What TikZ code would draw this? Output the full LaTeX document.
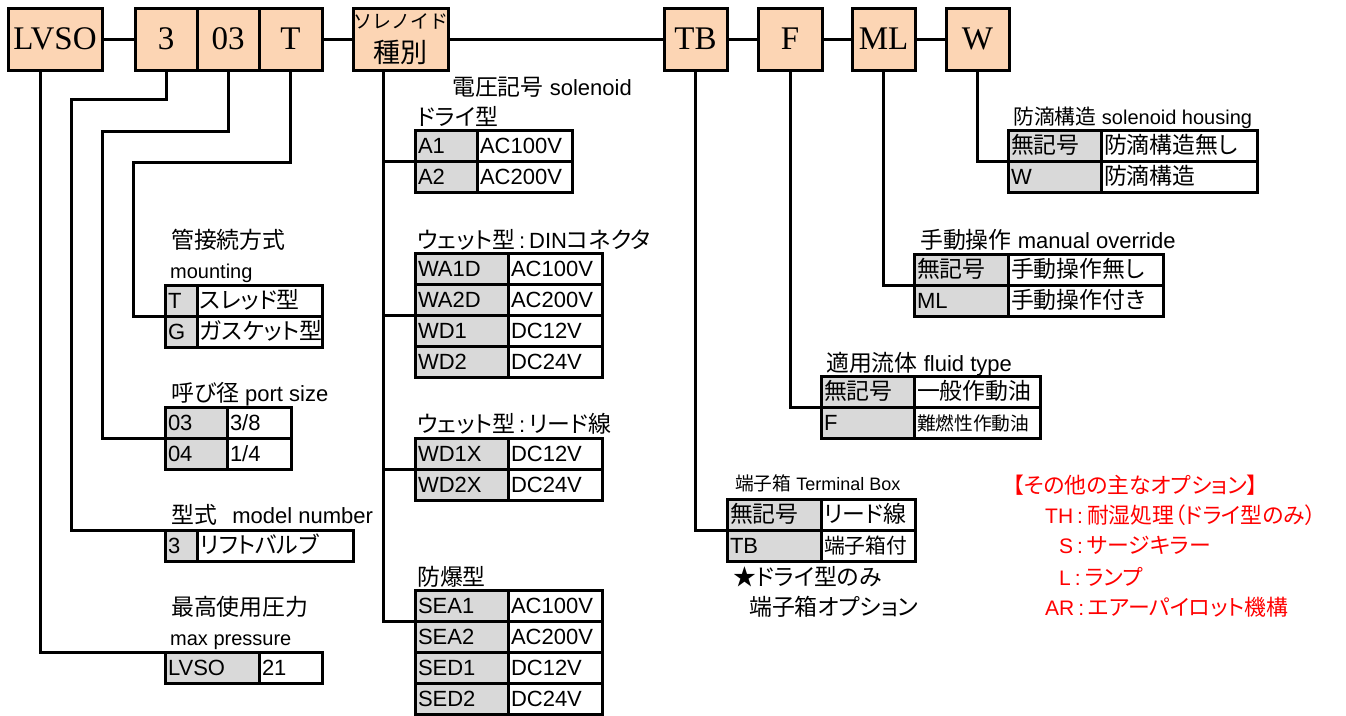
\documentclass[tikz,border=0pt]{standalone}
\usepackage{fontspec}
\newfontfamily\latf{Liberation Sans}
\newfontfamily\srf{Liberation Serif}
\newfontfamily\jpf[Scale=1.04,RawFeature=+palt]{Noto Sans CJK JP}
\newfontfamily\jpw{Noto Sans CJK JP}
% automatic switch between Latin and Japanese fonts
\XeTeXinterchartokenstate=1
\chardef\jpclass=201
\newcount\jpc
\def\setjp#1#2{\jpc=#1\relax
  \loop\XeTeXcharclass\jpc=\jpclass\relax
  \ifnum\jpc<#2\relax\advance\jpc by 1\relax\repeat}
\setjp{"3000}{"30FF}
\setjp{"4E00}{"9FFF}
\setjp{"FF00}{"FFEF}
\setjp{"2605}{"2605}
\XeTeXinterchartoks 0 \jpclass = {\jpf}
\XeTeXinterchartoks 4095 \jpclass = {\jpf}
\XeTeXinterchartoks \jpclass 0 = {\latf}
\XeTeXinterchartoks \jpclass 4095 = {\latf}
\def\nojp{\XeTeXinterchartokenstate=0 }
\def\csep{\hspace{4pt}:\hspace{4pt}}
\definecolor{peach}{HTML}{FCD5B4}
\definecolor{cellgray}{HTML}{D9D9D9}
\definecolor{optred}{HTML}{FF0000}
\tikzset{
  lw/.style={line width=3pt},
  topbox/.style={draw, lw, fill=peach, anchor=north west, minimum height=62pt,
    inner sep=0pt, outer sep=0pt, font=\srf\fontsize{33}{33}\selectfont},
  cellbase/.style={draw, lw, anchor=north west, minimum height=31pt,
    inner xsep=3pt, inner ysep=0pt, outer sep=0pt, align=left,
    text height=16pt, text depth=0pt, font=\latf\fontsize{22}{24}\selectfont},
  kcell/.style={cellbase, fill=cellgray},
  vcell/.style={cellbase, fill=white},
  conn/.style={lw},
  lab/.style={anchor=base west, inner sep=0pt, font=\latf\fontsize{22}{24}\selectfont},
  slab/.style={lab, font=\latf\fontsize{20}{22}\selectfont},
  xslab/.style={lab, font=\latf\fontsize{18}{20}\selectfont},
  redlab/.style={lab, text=optred, font=\latf\fontsize{21}{24}\selectfont},
}
\newcommand\trow[7]{%
  \pgfmathsetmacro\twa{#4-6}\pgfmathsetmacro\twb{#5-6}%
  \node[kcell,text width=\twa pt] (#1k) at (#2,#3) {#6};
  \node[vcell,text width=\twb pt] (#1v) at (#1k.north east) {#7};}
\begin{document}
\begin{tikzpicture}[x=1pt,y=-1pt]
\useasboundingbox (0,0) rectangle (1346,715);
% ---------- top code boxes ----------
\node[topbox, minimum width=94pt] (lvso) at (8,8) {LVSO};
\node[topbox, minimum width=62pt] (b3) at (135,8) {3};
\node[topbox, minimum width=62pt] (b03) at (b3.north east) {03};
\node[topbox, minimum width=63pt] (bT) at (b03.north east) {T};
\node[topbox, minimum width=94pt, align=center,
      font=\nojp\jpw\fontsize{19}{34}\selectfont] (sol) at (353,8)
      {ソレノイド\\{\fontsize{27}{34}\selectfont 種別}};
\node[topbox, minimum width=63pt] (tb) at (664,8) {TB};
\node[topbox, minimum width=64pt] (fb) at (758,8) {F};
\node[topbox, minimum width=63pt] (mlb) at (852,8) {ML};
\node[topbox, minimum width=63pt] (wb) at (946,8) {W};
\draw[conn] (lvso) -- (b3);
\draw[conn] (bT) -- (sol);
\draw[conn] (sol) -- (tb);
\draw[conn] (tb) -- (fb);
\draw[conn] (fb) -- (mlb);
\draw[conn] (mlb) -- (wb);
% ---------- left tables ----------
\node[lab] (lMount) at (171,248) {管接続方式};
\node[slab] (lMountE) at (170,278) {mounting};
\trow{mo1}{165}{285}{32}{125}{T}{スレッド型}
\trow{mo2}{165}{316}{32}{125}{G}{ガスケット型}
\node[lab] (lPort) at (171,401) {呼び径 port size};
\trow{ps1}{165}{407}{62}{64}{03}{3/8}
\trow{ps2}{165}{438}{62}{64}{04}{1/4}
\node[lab] (lModel) at (171,523) {型式\hspace{.7em}model number};
\trow{mt1}{165}{530}{32}{156}{3}{リフトバルブ}
\node[lab] (lPress) at (171,615) {最高使用圧力};
\node[slab] (lPressE) at (170,645) {max pressure};
\trow{mp1}{165}{652}{94}{63}{LVSO}{21}
% ---------- solenoid tables ----------
\node[lab] (lVolt) at (452,95) {電圧記号 solenoid};
\node[lab] (lDry) at (417,125) {ドライ型};
\trow{dr1}{415}{130}{62}{95}{A1}{AC100V}
\trow{dr2}{415}{161}{62}{95}{A2}{AC200V}
\node[lab] (lDin) at (417,248) {ウェット型\csep DINコネクタ};
\trow{dn1}{415}{253}{93}{94}{WA1D}{AC100V}
\trow{dn2}{415}{284}{93}{94}{WA2D}{AC200V}
\trow{dn3}{415}{315}{93}{94}{WD1}{DC12V}
\trow{dn4}{415}{346}{93}{94}{WD2}{DC24V}
\node[lab] (lLead) at (417,432) {ウェット型\csep リード線};
\trow{ld1}{415}{438}{93}{94}{WD1X}{DC12V}
\trow{ld2}{415}{469}{93}{94}{WD2X}{DC24V}
\node[lab] (lExp) at (417,585) {防爆型};
\trow{ex1}{415}{590}{93}{94}{SEA1}{AC100V}
\trow{ex2}{415}{621}{93}{94}{SEA2}{AC200V}
\trow{ex3}{415}{652}{93}{94}{SED1}{DC12V}
\trow{ex4}{415}{683}{93}{94}{SED2}{DC24V}
% ---------- right tables ----------
\node[slab] (lHous) at (1013,124) {防滴構造 solenoid housing};
\trow{wt1}{1008}{130}{93}{156}{無記号}{防滴構造無し}
\trow{wt2}{1008}{161}{93}{156}{W}{防滴構造}
\node[lab] (lMan) at (920,248) {手動操作 manual override};
\trow{ml1}{914}{254}{94}{155}{無記号}{手動操作無し}
\trow{ml2}{914}{285}{94}{155}{ML}{手動操作付き}
\node[lab] (lFluid) at (826,371) {適用流体 fluid type};
\trow{ft1}{821}{376}{93}{126}{無記号}{一般作動油}
\trow{ft2}{821}{407}{93}{126}{F}{{\fontsize{18}{20}\selectfont 難燃性作動油}}
\node[xslab] (lTerm) at (735,490) {端子箱 Terminal Box};
\trow{tt1}{727}{499}{94}{94}{無記号}{リード線}
\trow{tt2}{727}{530}{94}{94}{TB}{{\fontsize{20}{20}\selectfont 端子箱付}}
\node[lab] (lStar) at (733,585) {★ドライ型のみ};
\node[lab] (lStar2) at (749,615) {端子箱オプション};
% ---------- other options ----------
\node[redlab] (rHead) at (1013,493) {【その他の主なオプション】};
\node[redlab] (rTH) at (1045,523) {TH\csep 耐湿処理（ドライ型のみ）};
\node[redlab] (rS) at (1059,553) {S\csep サージキラー};
\node[redlab] (rL) at (1059,585) {L\csep ランプ};
\node[redlab] (rAR) at (1045,615) {AR\csep エアーパイロット機構};
% ---------- connectors ----------
\draw[conn] ([xshift=-15pt]lvso.south) |- (mp1k.north west);
\draw[conn] (b3.south) |- (71,99) |- (mt1k.north west);
\draw[conn] (b03.south) |- (102,131) |- (ps1k.south west);
\draw[conn] (bT.south) |- (133,162) |- (mo1k.south west);
\coordinate (solx) at ([xshift=-17pt]sol.south);
\draw[conn] (solx) |- (ex1k.south west);
\draw[conn] (solx) |- (dr1k.south west);
\draw[conn] (solx) |- (dn2k.south west);
\draw[conn] (solx) |- (ld1k.south west);
\draw[conn] (tb.south) |- (tt1k.south west);
\draw[conn] (fb.south) |- (ft1k.south west);
\draw[conn] (mlb.south) |- (ml1k.south west);
\draw[conn] (wb.south) |- (wt1k.south west);
\end{tikzpicture}
\end{document}
